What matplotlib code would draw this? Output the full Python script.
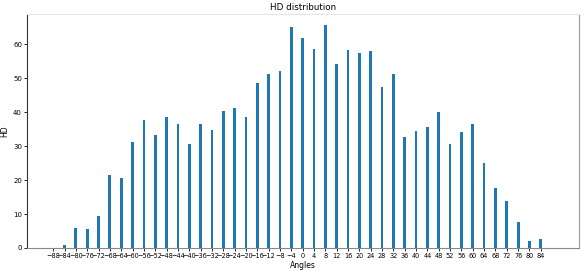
import numpy as np
import matplotlib.pyplot as plt

# angle bins and HD counts
angles = list(range(-88, 92, 4))
hd = [0, 0.8, 6.0, 5.7, 9.5, 21.6, 20.6, 31.3, 37.7, 33.3, 38.6, 36.6, 30.7,
      36.5, 34.8, 40.4, 41.3, 38.6, 48.6, 51.3, 52.3, 65.0, 61.9, 58.6, 65.7,
      54.2, 58.3, 57.5, 58.0, 47.4,
      51.3, 32.8, 34.5, 35.8, 40.1, 30.7, 34.3, 36.5, 25.1, 17.7, 13.9, 7.8,
      2.2, 2.7, 0]
tick_labels = list(range(-88, 88, 4))

fig = plt.figure(figsize=(5.84, 2.74), dpi=100)
ax = fig.add_axes([0.046, 0.095, 0.945, 0.854])

ax.bar(angles, hd, width=1.0, color='#1f77b4')

ax.set_xticks(tick_labels)
ax.set_xticklabels([str(t).replace('-', '\u2212') for t in tick_labels])
ax.set_xlim(-97.3, 97.4)
ax.set_ylim(0, max(hd) * 1.05)
ax.tick_params(axis='x', labelsize=4.7, length=2, width=0.6, pad=1.5)
ax.tick_params(axis='y', labelsize=5, length=2, width=0.6, pad=1.5)

ax.set_title('HD distribution', fontsize=6.3, pad=3)
ax.set_xlabel('Angles', fontsize=5.5, labelpad=1.5)
ax.set_ylabel('HD', fontsize=5.5, labelpad=3)

ax.spines['left'].set_color('#333333')
ax.spines['bottom'].set_color('#888888')
ax.spines['right'].set_color('#999999')
ax.spines['top'].set_color('#e6e6e6')
for s in ax.spines.values():
    s.set_linewidth(0.8)

fig.savefig('out.png', dpi=100)
